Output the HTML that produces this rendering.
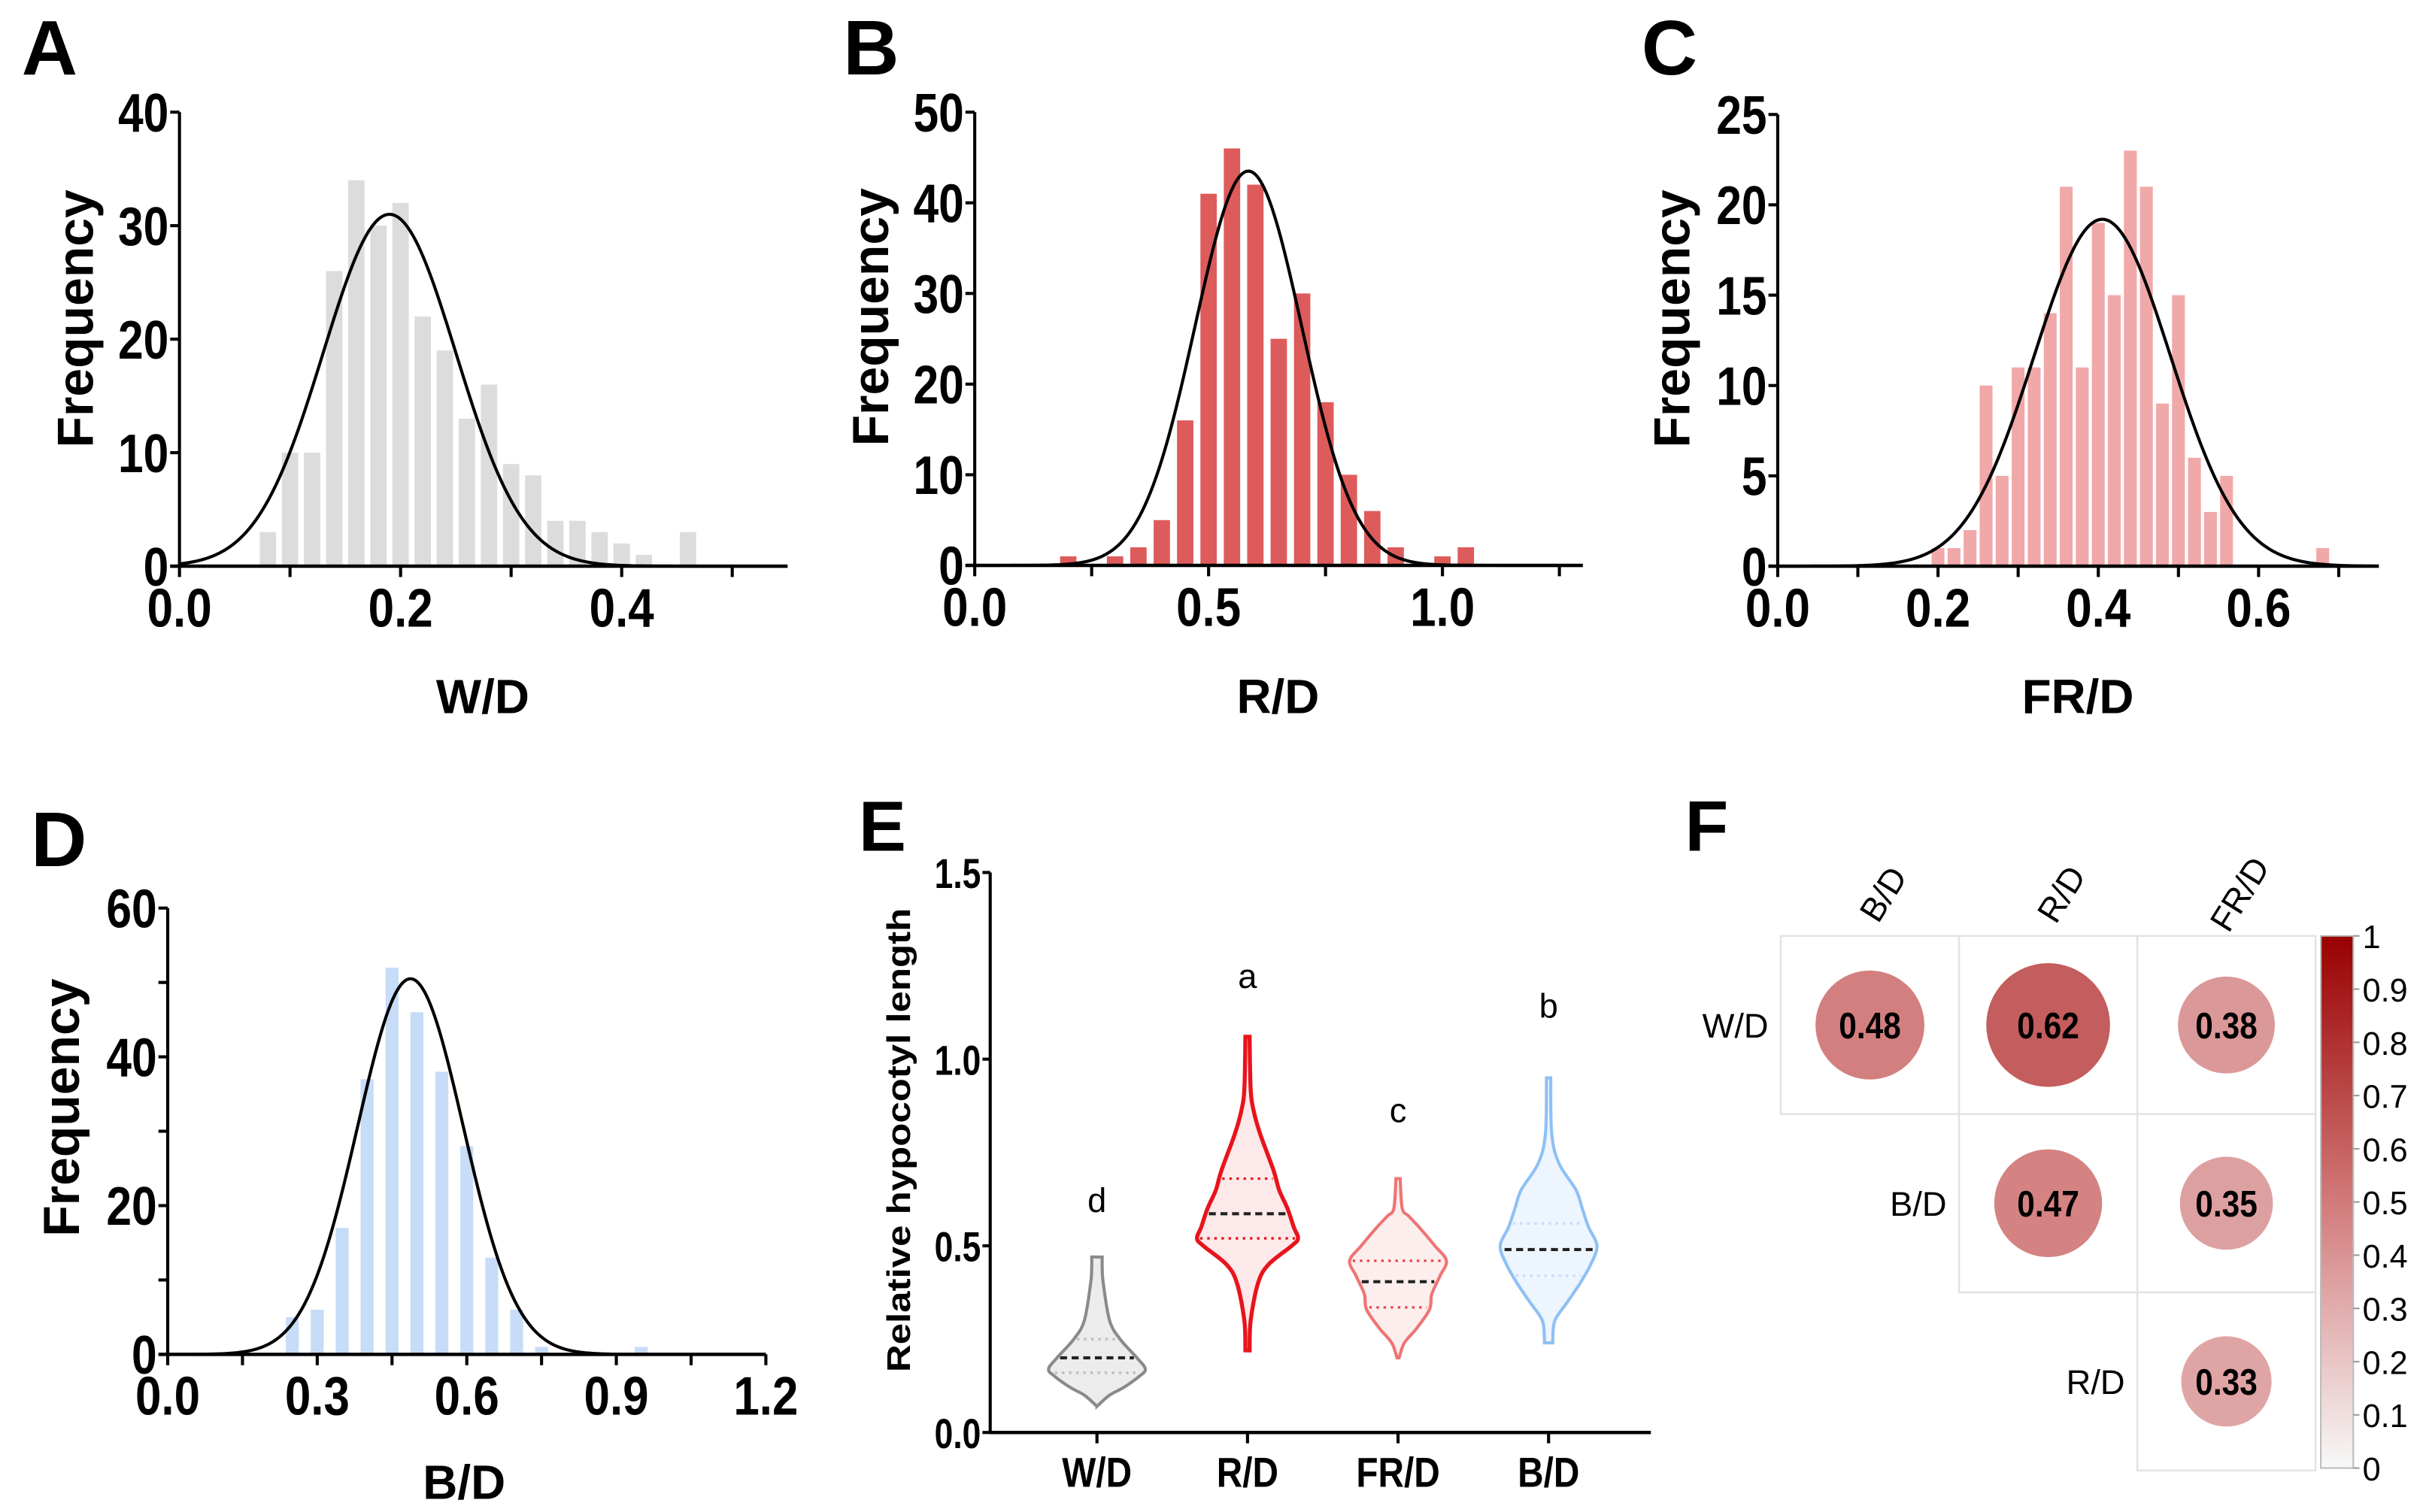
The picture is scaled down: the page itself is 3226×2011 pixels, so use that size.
<!DOCTYPE html>
<html><head><meta charset="utf-8"><style>
html,body{margin:0;padding:0;background:#fff;}
svg{display:block;}
text{font-family:"Liberation Sans",Arial,sans-serif;}
</style></head>
<body>
<svg id="fig" xmlns="http://www.w3.org/2000/svg" width="3226" height="2011" viewBox="0 0 1568 977.4" preserveAspectRatio="none">
<rect x="0" y="0" width="1568" height="977.4" fill="#fff"/>
<text x="14" y="48" font-size="50" font-weight="bold">A</text>
<text x="545" y="48" font-size="50" font-weight="bold">B</text>
<text x="1061" y="48" font-size="50" font-weight="bold">C</text>
<text x="20" y="560" font-size="50" font-weight="bold">D</text>
<text x="555" y="550" font-size="46" font-weight="bold">E</text>
<text x="1089" y="550" font-size="46" font-weight="bold">F</text>
</svg>
<script>
// ---------- data ----------
const aBins=[0.08,0.10,0.12,0.14,0.16,0.18,0.20,0.22,0.24,0.26,0.28,0.30,0.32,0.34,0.36,0.38,0.40,0.42,0.44,0.46];
const aCounts=[3,10,10,26,34,30,32,22,19,13,16,9,8,4,4,3,2,1,0,3];
const bBins=[0.20,0.25,0.30,0.35,0.40,0.45,0.50,0.55,0.60,0.65,0.70,0.75,0.80,0.85,0.90,0.95,1.00,1.05];
const bCounts=[1,0,1,2,5,16,41,46,42,25,30,18,10,6,2,0,1,2];
const cBins=[0.20,0.22,0.24,0.26,0.28,0.30,0.32,0.34,0.36,0.38,0.40,0.42,0.44,0.46,0.48,0.50,0.52,0.54,0.56,0.58,0.60,0.62,0.64,0.66,0.68];
const cCounts=[1,1,2,10,5,11,11,14,21,11,19,15,23,21,9,15,6,3,5,0,0,0,0,0,1];
const dBins=[0.25,0.30,0.35,0.40,0.45,0.50,0.55,0.60,0.65,0.70,0.75,0.80,0.85,0.90,0.95];
const dCounts=[5,6,17,37,52,46,38,28,13,6,1,0,0,0,1];
const fitMean=[0.19,0.585,0.405,0.487];
const fitSD=[0.060,0.114,0.085,0.106];
const fitPeak=[31,43.5,19.2,50.5];
const aYTicks=[0,10,20,30,40], aXTicks=["0.0","0.2","0.4"];
const bYTicks=[0,10,20,30,40,50], bXTicks=["0.0","0.5","1.0"];
const cYTicks=[0,5,10,15,20,25], cXTicks=["0.0","0.2","0.4","0.6"];
const dYTicks=[0,20,40,60], dXTicks=["0.0","0.3","0.6","0.9","1.2"];

const vGroups=["W/D","R/D","FR/D","B/D"];
const vLetters=["d","a","c","b"];
const vLetterY=[0.62,1.22,0.86,1.14];
const wdLevels=[0.47,0.44,0.40,0.30,0.25,0.20,0.17,0.15,0.12,0.10,0.07];
const wdDens=[5,5,6,12,22,38,46,40,25,12,0];
const rdLevels=[1.06,0.92,0.86,0.80,0.70,0.65,0.60,0.55,0.52,0.50,0.45,0.40,0.30,0.22];
const rdDens=[2,3,6,12,25,30,38,44,48,42,20,10,3,2];
const frLevels=[0.68,0.60,0.58,0.55,0.50,0.46,0.42,0.37,0.33,0.28,0.24,0.20];
const frDens=[2,4,10,20,35,46,40,32,30,18,6,1];
const bdLevels=[0.95,0.80,0.72,0.65,0.60,0.55,0.50,0.45,0.40,0.35,0.30,0.25,0.24];
const bdDens=[2,3,10,26,32,38,46,40,30,18,6,4,4];
const vMedian=[0.20,0.586,0.404,0.49];
const vQ1=[0.16,0.52,0.335,0.42];
const vQ3=[0.25,0.68,0.46,0.56];
const eYTicks=["0.0","0.5","1.0","1.5"];

const corrRows=["W/D","B/D","R/D"];
const corrCols=["B/D","R/D","FR/D"];
const corrRow0=[0.48,0.62,0.38];
const corrRow1=[null,0.47,0.35];
const corrRow2=[null,null,0.33];
const cbTicks=["0","0.1","0.2","0.3","0.4","0.5","0.6","0.7","0.8","0.9","1"];

// ---------- helpers ----------
const svg=document.getElementById('fig');
const NS='http://www.w3.org/2000/svg';
function mk(tag,attrs,parent){const e=document.createElementNS(NS,tag);for(const k in attrs)e.setAttribute(k,attrs[k]);(parent||svg).appendChild(e);return e;}

function histPanel(o){
  const xs=v=>o.x0+(v/o.xmax)*(o.x1-o.x0);
  const ys=v=>o.y0-(v/o.ymax)*(o.y0-o.y1);
  const g=mk('g',{});
  
  
  o.bins.forEach((b,i)=>{
    if(o.counts[i]<=0)return;
    const r=mk('rect',{x:xs(b-o.bw/2),y:ys(o.counts[i]),width:xs(o.bw)-xs(0),height:ys(0)-ys(o.counts[i]),fill:o.color},g);
    
    
  });
  let d='';
  for(let k=0;k<=300;k++){const v=o.xmax*k/300;const f=fitPeak[o.fi]*Math.exp(-0.5*Math.pow((v-fitMean[o.fi])/fitSD[o.fi],2));d+=(k?'L':'M')+xs(v).toFixed(2)+','+ys(f).toFixed(2);}
  const c=mk('path',{d:d,fill:'none',stroke:'#000','stroke-width':2},g);
  
  
  const ya=mk('line',{x1:o.x0,y1:o.y1,x2:o.x0,y2:o.y0+1,stroke:'#000','stroke-width':2},g);
  
  
  const xa=mk('line',{x1:o.x0-6,y1:o.y0,x2:o.x1,y2:o.y0,stroke:'#000','stroke-width':2.2},g);
  
  
  for(let v=0;v<=o.ymax+1e-9;v+=o.yminor){
    const t=mk('line',{x1:o.x0-6,y1:ys(v),x2:o.x0,y2:ys(v),stroke:'#000','stroke-width':2},g);
    
    
  }
  o.yTicks.forEach(v=>{
    const t=mk('text',{x:0,y:0,'font-size':35,'font-weight':'bold','text-anchor':'end',transform:`translate(${o.x0-7},${ys(v)+12.5}) scale(0.84,1)`},g);
    t.textContent=String(v);
    
    
  });
  for(let v=0;v<=o.xmax+1e-9;v+=o.xminor){
    const t=mk('line',{x1:xs(v),y1:o.y0,x2:xs(v),y2:o.y0+7,stroke:'#000','stroke-width':2},g);
    
    
  }
  o.xTicks.forEach(s=>{
    const t=mk('text',{x:0,y:0,'font-size':35,'font-weight':'bold','text-anchor':'middle',transform:`translate(${xs(parseFloat(s))},${o.y0+39}) scale(0.86,1)`},g);
    t.textContent=s;
    
    
  });
  const yt=mk('text',{x:0,y:0,'font-size':33,'font-weight':'bold','text-anchor':'middle',transform:`translate(${o.ytx},${o.yty}) rotate(-90)`},g);
  yt.textContent='Frequency';
  
  
  const xt=mk('text',{x:o.xtx,y:o.xty,'font-size':31,'font-weight':'bold','text-anchor':'middle'},g);
  xt.textContent=o.title;
  
  
}
histPanel({name:'w-d',bins:aBins,counts:aCounts,bw:0.0148,color:'#dcdcdc',fi:0,x0:116,x1:509,xmax:0.55,y0:366,y1:72.5,ymax:40,yTicks:aYTicks,yminor:10,xTicks:aXTicks,xminor:0.1,ytx:60,yty:206,xtx:312,xty:461,title:'W/D'});
histPanel({name:'r-d',bins:bBins,counts:bCounts,bw:0.035,color:'#de5b5b',fi:1,x0:630,x1:1023,xmax:1.3,y0:365.5,y1:72.5,ymax:50,yTicks:bYTicks,yminor:10,xTicks:bXTicks,xminor:0.25,ytx:574,yty:205,xtx:826,xty:461,title:'R/D'});
histPanel({name:'fr-d',bins:cBins,counts:cCounts,bw:0.016,color:'#f0a8a8',fi:2,x0:1149,x1:1537.5,xmax:0.75,y0:366,y1:74,ymax:25,yTicks:cYTicks,yminor:5,xTicks:cXTicks,xminor:0.1,ytx:1092,yty:206,xtx:1343,xty:461,title:'FR/D'});
histPanel({name:'b-d',bins:dBins,counts:dCounts,bw:0.026,color:'#c6dcf7',fi:3,x0:108.4,x1:495,xmax:1.2,y0:875.5,y1:587,ymax:60,yTicks:dYTicks,yminor:10,xTicks:dXTicks,xminor:0.15,ytx:51,yty:716,xtx:300,xty:969,title:'B/D'});

// ---------- violin panel E ----------
(function(){
  const X0=640,X1=1067,Y0=926,Y1=564,YMAX=1.5;
  const ys=v=>Y0-(v/YMAX)*(Y0-Y1);
  const xs=i=>709+i*97.3;
  const K=0.68;
  const levels=[wdLevels,rdLevels,frLevels,bdLevels];
  const dens=[wdDens,rdDens,frDens,bdDens];
  const strokes=['#8a8a8a','#e8141c','#ef7474','#8ec0f5'];
  const fills=['#ececec','#fde9e9','#fdeeee','#edf5fe'];
  const qcol=['#bdbdbd','#e8141c','#ef4040','#c8dcf5'];
  const g=mk('g',{});
  
  
  function smooth(pts){let d='M'+pts[0][0]+','+pts[0][1];for(let i=0;i<pts.length-1;i++){const p0=pts[Math.max(0,i-1)],p1=pts[i],p2=pts[i+1],p3=pts[Math.min(pts.length-1,i+2)];const c1=[p1[0]+(p2[0]-p0[0])/6,p1[1]+(p2[1]-p0[1])/6],c2=[p2[0]-(p3[0]-p1[0])/6,p2[1]-(p3[1]-p1[1])/6];d+=`C${c1[0].toFixed(2)},${c1[1].toFixed(2)} ${c2[0].toFixed(2)},${c2[1].toFixed(2)} ${p2[0].toFixed(2)},${p2[1].toFixed(2)}`;}return d;}
  function hwAt(gi,v){const L=levels[gi],D=dens[gi];for(let i=0;i<L.length-1;i++){if(v<=L[i]&&v>=L[i+1]){const t=(L[i]-v)/(L[i]-L[i+1]);return (D[i]+(D[i+1]-D[i])*t)*K;}}return 0;}
  vGroups.forEach((name,gi)=>{
    const cx=xs(gi);
    const right=levels[gi].map((v,i)=>[cx+dens[gi][i]*K,ys(v)]);
    const left=levels[gi].map((v,i)=>[cx-dens[gi][i]*K,ys(v)]).reverse();
    let d=smooth(right);d+='L'+left[0][0]+','+left[0][1];d+=smooth(left).replace(/^M[^C]*/,'')+'Z';
    const p=mk('path',{d:d,fill:fills[gi],stroke:strokes[gi],'stroke-width':gi==1?2.6:2},g);
    
    
    [vQ1[gi],vQ3[gi]].forEach(q=>{
      const w=hwAt(gi,q)-2;
      const l=mk('line',{x1:cx-w,y1:ys(q),x2:cx+w,y2:ys(q),stroke:qcol[gi],'stroke-width':1.6,'stroke-dasharray':'1.6 3'},g);
      
      
    });
    const wm=hwAt(gi,vMedian[gi])-2;
    const m=mk('line',{x1:cx-wm,y1:ys(vMedian[gi]),x2:cx+wm,y2:ys(vMedian[gi]),stroke:'#222','stroke-width':2,'stroke-dasharray':'4.5 3'},g);
    
    
    const t=mk('text',{x:cx,y:ys(vLetterY[gi])+7,'font-size':22,'text-anchor':'middle'},g);
    t.textContent=vLetters[gi];
    
    
    const tk=mk('line',{x1:cx,y1:Y0,x2:cx,y2:Y0+7,stroke:'#000','stroke-width':2},g);
    
    
    const cl=mk('text',{x:0,y:0,'font-size':27,'font-weight':'bold','text-anchor':'middle',transform:`translate(${cx},${Y0+35}) scale(0.86,1)`},g);
    cl.textContent=name;
    
    
  });
  const ya=mk('line',{x1:X0,y1:Y1,x2:X0,y2:Y0+1,stroke:'#000','stroke-width':2},g);
  
  
  const xa=mk('line',{x1:X0,y1:Y0,x2:X1,y2:Y0,stroke:'#000','stroke-width':2.2},g);
  
  
  eYTicks.forEach(s=>{
    const v=parseFloat(s);
    const t=mk('line',{x1:X0-5,y1:ys(v),x2:X0,y2:ys(v),stroke:'#000','stroke-width':2},g);
    
    
    const l=mk('text',{x:0,y:0,'font-size':27,'font-weight':'bold','text-anchor':'end',transform:`translate(${X0-6},${ys(v)+10}) scale(0.8,1)`},g);
    l.textContent=s;
    
    
  });
  const yt=mk('text',{x:0,y:0,'font-size':21,'font-weight':'bold','text-anchor':'middle',textLength:300,lengthAdjust:'spacingAndGlyphs',transform:'translate(588,737) rotate(-90)'},g);
  yt.textContent='Relative hypocotyl length';
  
  
})();

// ---------- correlation panel F ----------
(function(){
  const cx0=1151,cell=115.2,cy0=605;
  const stops=[[0,[248,248,248]],[0.5,[210,122,122]],[1,[153,0,0]]];
  function col(v){let a=stops[0],b=stops[1];if(v>0.5){a=stops[1];b=stops[2];}const t=(v-a[0])/(b[0]-a[0]);const c=a[1].map((x,i)=>Math.round(x+(b[1][i]-x)*t));return `rgb(${c[0]},${c[1]},${c[2]})`;}
  const rows=[corrRow0,corrRow1,corrRow2];
  const g=mk('g',{});
  
  
  rows.forEach((row,i)=>{
    row.forEach((v,j)=>{
      if(v===null)return;
      const r=mk('rect',{x:cx0+j*cell,y:cy0+i*cell,width:cell,height:cell,fill:'#fff',stroke:'#e2e2e2','stroke-width':1.2},g);
      
      
    });
  });
  rows.forEach((row,i)=>{
    row.forEach((v,j)=>{
      if(v===null)return;
      const cx=cx0+(j+0.5)*cell,cy=cy0+(i+0.5)*cell;
      const c=mk('circle',{cx:cx,cy:cy,r:40*Math.sqrt(v/0.62),fill:col(v)},g);
      
      
      const t=mk('text',{x:0,y:0,'font-size':24,'font-weight':'bold','text-anchor':'middle',transform:`translate(${cx},${cy+8.5}) scale(0.86,1)`},g);
      t.textContent=v.toFixed(2);
      
      
    });
  });
  corrCols.forEach((s,j)=>{
    const x=cx0+(j+0.5)*cell+15;
    const t=mk('text',{x:0,y:0,'font-size':22,'text-anchor':'middle',transform:`translate(${x},582) rotate(-58)`},g);
    t.textContent=s;
    
    
  });
  corrRows.forEach((s,i)=>{
    const t=mk('text',{x:cx0+i*cell-8,y:cy0+(i+0.5)*cell+8,'font-size':22,'text-anchor':'end'},g);
    t.textContent=s;
    
    
  });
  const defs=mk('defs',{},g);
  const lg=mk('linearGradient',{id:'cbg',x1:0,y1:1,x2:0,y2:0},defs);
  stops.forEach(s=>{mk('stop',{offset:s[0],'stop-color':`rgb(${s[1].join(',')})`},lg);});
  const cbX=1500,cbW=21,cbT=605,cbB=949;
  const cb=mk('rect',{x:cbX,y:cbT,width:cbW,height:cbB-cbT,fill:'url(#cbg)',stroke:'#bbb','stroke-width':1},g);
  
  
  cbTicks.forEach(s=>{
    const v=parseFloat(s);const y=cbB-v*(cbB-cbT);
    const tk=mk('line',{x1:cbX+cbW,y1:y,x2:cbX+cbW+4,y2:y,stroke:'#999','stroke-width':1},g);
    
    
    const t=mk('text',{x:cbX+cbW+6,y:y+8,'font-size':21},g);
    t.textContent=s;
    
    
  });
})();
</script>
</body></html>
